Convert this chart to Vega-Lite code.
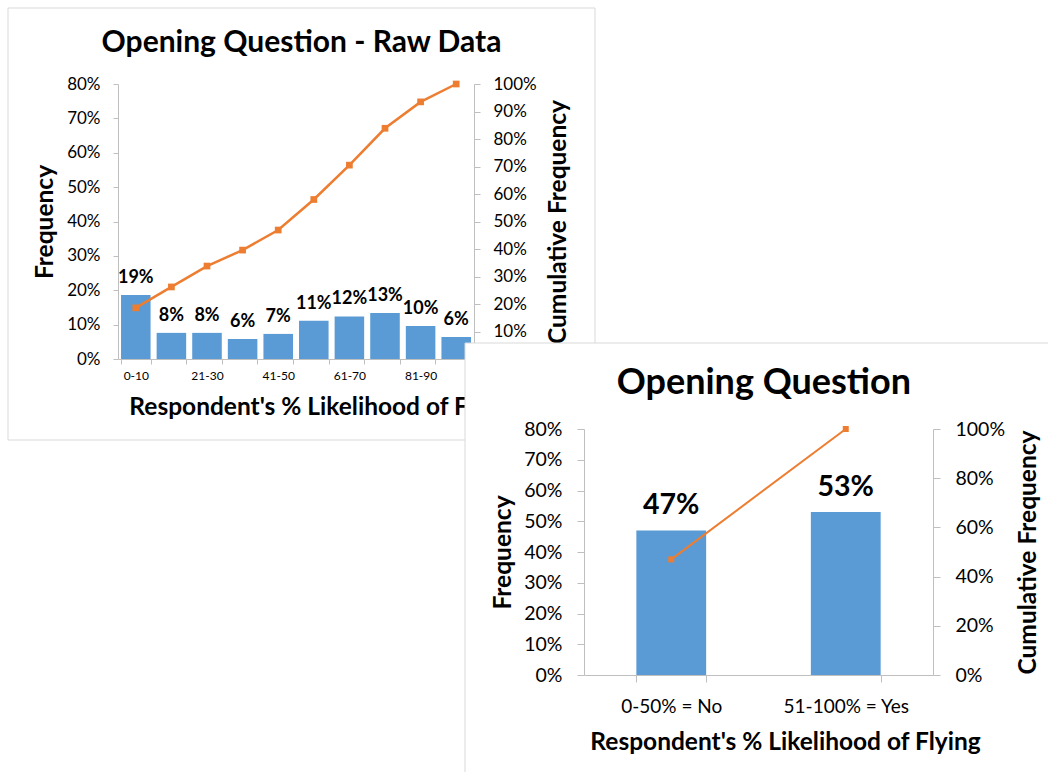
{
  "$schema": "https://vega.github.io/schema/vega-lite/v6.json",
  "width": 1048,
  "height": 772,
  "padding": 0,
  "autosize": {"type": "none"},
  "background": "white",
  "config": {
    "font": "Lato",
    "view": {"stroke": null},
    "axis": {"grid": false, "labelColor": "#000", "titleColor": "#000", "domainColor": "#bfbfbf", "tickColor": "#bfbfbf", "labelFont": "Lato", "titleFont": "Lato", "titleFontWeight": "bold"}
  },
  "layer": [
    {
      "data": {"values": [{}]},
      "layer": [
        {
          "mark": {"type": "rect", "fill": "white", "fillOpacity": 0, "stroke": "#d9d9d9", "strokeWidth": 1},
          "encoding": {
            "x": {"datum": 0, "type": "quantitative", "scale": {"domain": [0, 1], "range": [8, 595]}, "axis": null},
            "x2": {"datum": 1},
            "y": {"datum": 0, "type": "quantitative", "scale": {"domain": [0, 1], "range": [8, 440]}, "axis": null},
            "y2": {"datum": 1}
          }
        },
        {
          "mark": {"type": "text", "fontSize": 30, "fontWeight": "bold", "align": "center", "baseline": "middle", "color": "#000"},
          "encoding": {
            "x": {"datum": 0.5, "type": "quantitative"},
            "y": {"datum": 0.081, "type": "quantitative"},
            "text": {"value": "Opening Question - Raw Data"}
          }
        }
      ]
    },
    {
      "data": {"values": [
        {"bin": "0-10", "freq": 0.186, "cum": 0.186},
        {"bin": "11-20", "freq": 0.076, "cum": 0.262},
        {"bin": "21-30", "freq": 0.076, "cum": 0.338},
        {"bin": "31-40", "freq": 0.058, "cum": 0.396},
        {"bin": "41-50", "freq": 0.073, "cum": 0.469},
        {"bin": "51-60", "freq": 0.111, "cum": 0.58},
        {"bin": "61-70", "freq": 0.124, "cum": 0.705},
        {"bin": "71-80", "freq": 0.134, "cum": 0.839},
        {"bin": "81-90", "freq": 0.096, "cum": 0.935},
        {"bin": "91-100", "freq": 0.064, "cum": 1.0}
      ]},
      "encoding": {
        "x": {
          "field": "bin", "type": "nominal", "sort": null,
          "scale": {"range": [118, 474], "paddingInner": 0.17, "paddingOuter": 0.085},
          "axis": {
            "orient": "bottom", "offset": -413, "title": "Respondent's % Likelihood of Flying",
            "titleFontSize": 24.5, "titleX": 324, "titleY": 48, "titleBaseline": "middle", "titleAlign": "center",
            "labelExpr": "indexof(['0-10','21-30','41-50','61-70','81-90'], datum.value) >= 0 ? datum.label : ''",
            "labelAngle": 0, "labelFontSize": 12, "labelPadding": 6, "tickSize": 5, "tickBand": "extent", "labelOverlap": false
          }
        }
      },
      "layer": [
        {
          "encoding": {
            "y": {
              "field": "freq", "type": "quantitative",
              "scale": {"domain": [0, 0.8], "range": [359, 84]},
              "axis": {
                "orient": "left", "offset": -118, "format": ".0%", "values": [0, 0.1, 0.2, 0.3, 0.4, 0.5, 0.6, 0.7, 0.8],
                "title": "Frequency", "titleFontSize": 24.5, "titleX": -73, "titleY": 221.5, "titleAngle": -90,
                "titleBaseline": "middle", "titleAlign": "center",
                "labelFontSize": 17, "tickSize": 5, "labelPadding": 13
              }
            }
          },
          "layer": [
            {"mark": {"type": "bar", "color": "#5B9BD5"}, "encoding": {}},
            {
              "mark": {"type": "text", "fontSize": 18, "fontWeight": "bold", "baseline": "middle", "dy": -17, "color": "#000"},
              "encoding": {"text": {"field": "freq", "type": "quantitative", "format": ".0%"}}
            }
          ]
        },
        {
          "encoding": {
            "y": {
              "field": "cum", "type": "quantitative",
              "scale": {"domain": [0, 1], "range": [359, 84]},
              "axis": {
                "orient": "right", "offset": -574, "format": ".0%", "values": [0, 0.1, 0.2, 0.3, 0.4, 0.5, 0.6, 0.7, 0.8, 0.9, 1],
                "title": "Cumulative Frequency", "titleFontSize": 24.5, "titleX": 84, "titleY": 221.5, "titleAngle": -90,
                "titleBaseline": "middle", "titleAlign": "center",
                "labelFontSize": 17, "tickSize": 6, "labelPadding": 13
              }
            }
          },
          "layer": [
            {"mark": {"type": "line", "color": "#ED7D31", "strokeWidth": 2.5}, "encoding": {}},
            {"mark": {"type": "point", "shape": "square", "filled": true, "size": 45, "color": "#ED7D31", "opacity": 1}, "encoding": {}}
          ]
        }
      ],
      "resolve": {"scale": {"y": "independent"}}
    },
    {
      "data": {"values": [{}]},
      "layer": [
        {
          "mark": {"type": "rect", "fill": "white", "stroke": "#d9d9d9", "strokeWidth": 1},
          "encoding": {
            "x": {"datum": 0, "type": "quantitative", "scale": {"domain": [0, 1], "range": [465, 1051]}, "axis": null},
            "x2": {"datum": 1},
            "y": {"datum": 0, "type": "quantitative", "scale": {"domain": [0, 1], "range": [343, 775]}, "axis": null},
            "y2": {"datum": 1}
          }
        },
        {
          "mark": {"type": "text", "fontSize": 36, "fontWeight": "bold", "align": "center", "baseline": "middle", "color": "#000"},
          "encoding": {
            "x": {"datum": 0.51, "type": "quantitative"},
            "y": {"datum": 0.0926, "type": "quantitative"},
            "text": {"value": "Opening Question"}
          }
        }
      ]
    },
    {
      "data": {"values": [
        {"cat": "0-50% = No", "freq": 0.47, "cum": 0.47},
        {"cat": "51-100% = Yes", "freq": 0.53, "cum": 1.0}
      ]},
      "encoding": {
        "x": {
          "field": "cat", "type": "nominal", "sort": null,
          "scale": {"range": [584, 933], "paddingInner": 0.6, "paddingOuter": 0.3},
          "axis": {
            "orient": "bottom", "offset": -97, "title": "Respondent's % Likelihood of Flying", "zindex": 1,
            "titleFontSize": 24.5, "titleX": 785, "titleY": 67, "titleBaseline": "middle", "titleAlign": "center",
            "labelAngle": 0, "labelFontSize": 19, "labelPadding": 15, "tickSize": 7, "tickBand": "extent", "labelOverlap": false
          }
        }
      },
      "layer": [
        {
          "encoding": {
            "y": {
              "field": "freq", "type": "quantitative",
              "scale": {"domain": [0, 0.8], "range": [675, 429]},
              "axis": {
                "orient": "left", "offset": -584, "format": ".0%", "values": [0, 0.1, 0.2, 0.3, 0.4, 0.5, 0.6, 0.7, 0.8], "zindex": 1,
                "title": "Frequency", "titleFontSize": 24.5, "titleX": -81, "titleY": 552, "titleAngle": -90,
                "titleBaseline": "middle", "titleAlign": "center",
                "labelFontSize": 19.5, "tickSize": 7, "labelPadding": 15
              }
            }
          },
          "layer": [
            {"mark": {"type": "bar", "color": "#5B9BD5"}, "encoding": {}},
            {
              "mark": {"type": "text", "fontSize": 28.5, "fontWeight": "bold", "baseline": "middle", "dy": -25, "color": "#000"},
              "encoding": {"text": {"field": "freq", "type": "quantitative", "format": ".0%"}}
            }
          ]
        },
        {
          "encoding": {
            "y": {
              "field": "cum", "type": "quantitative",
              "scale": {"domain": [0, 1], "range": [675, 429]},
              "axis": {
                "orient": "right", "offset": -115, "format": ".0%", "values": [0, 0.2, 0.4, 0.6, 0.8, 1], "zindex": 1,
                "title": "Cumulative Frequency", "titleFontSize": 24.5, "titleX": 95, "titleY": 552, "titleAngle": -90,
                "titleBaseline": "middle", "titleAlign": "center",
                "labelFontSize": 19.5, "tickSize": 7, "labelPadding": 15
              }
            }
          },
          "layer": [
            {"mark": {"type": "line", "color": "#ED7D31", "strokeWidth": 2}, "encoding": {}},
            {"mark": {"type": "point", "shape": "square", "filled": true, "size": 36, "color": "#ED7D31", "opacity": 1}, "encoding": {}}
          ]
        }
      ],
      "resolve": {"scale": {"y": "independent"}}
    }
  ],
  "resolve": {"scale": {"x": "independent", "y": "independent"}}
}
